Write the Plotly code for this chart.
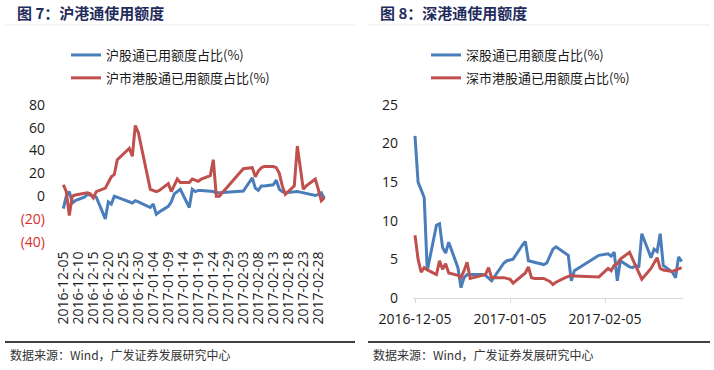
import plotly.graph_objects as go
import pandas as pd

# ---------------- data ----------------
dates = [
    "2016-12-05", "2016-12-06", "2016-12-07", "2016-12-08", "2016-12-09",
    "2016-12-12", "2016-12-13", "2016-12-14", "2016-12-15", "2016-12-16",
    "2016-12-19", "2016-12-20", "2016-12-21", "2016-12-22", "2016-12-23",
    "2016-12-27", "2016-12-28", "2016-12-29", "2016-12-30",
    "2017-01-03", "2017-01-04", "2017-01-05", "2017-01-06",
    "2017-01-09", "2017-01-10", "2017-01-11", "2017-01-12", "2017-01-13",
    "2017-01-16", "2017-01-17", "2017-01-18", "2017-01-19", "2017-01-20",
    "2017-01-23", "2017-01-24", "2017-01-25", "2017-01-26",
    "2017-02-03",
    "2017-02-06", "2017-02-07", "2017-02-08", "2017-02-09", "2017-02-10",
    "2017-02-13", "2017-02-14", "2017-02-15", "2017-02-16", "2017-02-17",
    "2017-02-20", "2017-02-21", "2017-02-22", "2017-02-23", "2017-02-24",
    "2017-02-27", "2017-02-28", "2017-03-01", "2017-03-02",
]

# 图7 沪港通
sh_north = [-11, 0, 4, -6, -4,
            -1, 1.5, 1, 0, -1,
            -20, -5, -7, 0, -1,
            -5, -6, -4, -5,
            -10, -7, -16, -14,
            -9, -5, 2, 4, 6,
            -10, 6, 4, 5, 5,
            4, 4, 3, 3,
            4.5,
            16, 7, 5, 9, 9,
            10, 14, 6, 4, 3,
            4, 4, 3.5, 3, 2,
            0.5, 1.5, 3, -2]
sh_south = [10, 4, -17, 0, 1,
            3, 3, 2, -1.5, 4,
            7, 12, 17, 19, 32,
            42, 35, 62, 56,
            6, 5, 4, 5,
            11, 4, 10, 15, 12,
            12, 15, 14, 13, 15,
            18, 32, 0, 0,
            24,
            25, 17, 22, 25, 26,
            26, 25, 20, 9, 1.5,
            9, 44, 25, 6, 9,
            15, 6, -4, -1.5]

# 图8 深港通
sz_north = [21, 15, 14, 13, 3.5,
            9.4, 9.6, 6.5, 5.8, 7.2,
            3.9, 1.3, 2.6, 3.0, 3.0,
            3.0, 2.9, 2.6, 2.2,
            4.5, 4.8, 4.9, 5.0,
            6.8, 7.3, 4.8, 4.7, 4.6,
            4.3, 4.5, 5.5, 6.3, 6.6,
            5.8, 5.5, 2.2, 3.5,
            5.5,
            5.7, 5.4, 5.9, 2.2, 4.8,
            4.0, 3.9, 4.2, 3.9, 8.3,
            5.2, 6.3, 6.0, 8.3, 4.2,
            3.3, 2.6, 5.3, 4.7]
sz_south = [8.1, 5.0, 3.3, 3.9, 3.6,
            3.0, 4.8, 3.7, 4.4, 3.2,
            2.9, 2.6, 3.5, 4.6, 2.5,
            2.9, 3.0, 3.9, 2.6,
            2.6, 2.5, 2.4, 1.9,
            2.9, 3.2, 4.0, 2.6, 2.5,
            2.5, 2.3, 2.1, 1.7, 2.0,
            2.6, 2.8, 2.9, 2.8,
            2.7,
            3.8, 3.5, 4.2, 4.4, 5.0,
            5.9, 5.0, 4.2, 3.3, 2.4,
            3.8, 4.5, 5.2, 3.8, 3.6,
            3.4, 3.6, 3.8, 3.9]

left_yticks = [-40, -20, 0, 20, 40, 60, 80]
left_yticktext = ['<span style="color:#d9302c">(40)</span>',
                  '<span style="color:#d9302c">(20)</span>',
                  "0", "20", "40", "60", "80"]
right_yticks = [0, 5, 10, 15, 20, 25]

names_left = ["沪股通已用额度占比(%)", "沪市港股通已用额度占比(%)"]
names_right = ["深股通已用额度占比(%)", "深市港股通已用额度占比(%)"]
titles = ["图 7：沪港通使用额度", "图 8：深港通使用额度"]
source = "数据来源：Wind，广发证券发展研究中心"

# ---------------- styling ----------------
W, H = 714, 370
BLUE = "#4a7ebb"
RED = "#c0504d"
FONT = "Open Sans, Noto Sans CJK SC, sans-serif"
CJK = "Noto Sans CJK SC, sans-serif"
TXT = "#1a1a1a"


def fx(p):
    return p / W


def fy(p):
    return 1 - p / H


start = pd.Timestamp(dates[0])
DAY_L = 3.0      # px per day, left panel
DAY_R = 3.065    # px per day, right panel
L0, L1, LSTART = 60, 326, 63.3
R0, R1, RSTART = 413, 683, 415.0
left_range = [(start - pd.Timedelta(days=(LSTART - L0) / DAY_L)).isoformat(),
              (start + pd.Timedelta(days=(L1 - LSTART) / DAY_L)).isoformat()]
right_range = [(start - pd.Timedelta(days=(RSTART - R0) / DAY_R)).isoformat(),
               (start + pd.Timedelta(days=(R1 - RSTART) / DAY_R)).isoformat()]

ly_dom = [fy(241.7), fy(105)]
ry_dom = [fy(297.7), fy(105)]
zero_pos = ly_dom[0] + (0 - left_yticks[0]) / (left_yticks[-1] - left_yticks[0]) * (ly_dom[1] - ly_dom[0])

fig = go.Figure()
fig.add_trace(go.Scatter(x=dates, y=sh_north, name=names_left[0], mode="lines", legendgroup="a",
                         line=dict(color=BLUE, width=3), xaxis="x", yaxis="y", legend="legend"))
fig.add_trace(go.Scatter(x=dates, y=sh_south, name=names_left[1], mode="lines", legendgroup="b",
                         line=dict(color=RED, width=3), xaxis="x", yaxis="y", legend="legend"))
fig.add_trace(go.Scatter(x=dates, y=sz_north, name=names_right[0], mode="lines", legendgroup="c",
                         line=dict(color=BLUE, width=3), xaxis="x2", yaxis="y2", legend="legend2"))
fig.add_trace(go.Scatter(x=dates, y=sz_south, name=names_right[1], mode="lines", legendgroup="d",
                         line=dict(color=RED, width=3), xaxis="x2", yaxis="y2", legend="legend2"))

five_days = 5 * 86400000

fig.update_layout(
    width=W, height=H,
    margin=dict(l=0, r=0, t=0, b=0, autoexpand=False),
    paper_bgcolor="white", plot_bgcolor="white",
    font=dict(family=FONT, size=14, color=TXT),
    xaxis=dict(domain=[fx(L0), fx(L1)], type="date", range=left_range, anchor="y",
               tick0=dates[0], dtick=five_days, tickformat="%Y-%m-%d", tickangle=-90,
               showgrid=False, showline=False, zeroline=False, ticks="", automargin=False,
               ticklabelstandoff=6, tickfont=dict(size=14, color=TXT)),
    xaxis3=dict(domain=[fx(L0), fx(L1)], type="date", range=left_range, anchor="free",
                overlaying="x", position=zero_pos, automargin=False,
                tick0=dates[0], dtick=five_days, showticklabels=False,
                showgrid=False, showline=True, linecolor="#d9d9d9", linewidth=1,
                ticks="outside", ticklen=4, tickcolor="#d9d9d9", zeroline=False),
    yaxis=dict(domain=ly_dom, range=[left_yticks[0], left_yticks[-1]], anchor="x",
               tickvals=left_yticks, ticktext=left_yticktext, automargin=False,
               showgrid=False, zeroline=False, showline=False, ticks="",
               ticklabelstandoff=14, tickfont=dict(size=14, color=TXT)),
    xaxis2=dict(domain=[fx(R0), fx(R1)], type="date", range=right_range, anchor="y2",
                tick0=dates[0], dtick="M1", tickformat="%Y-%m-%d", automargin=False,
                showgrid=False, showline=True, linecolor="#d9d9d9", linewidth=1,
                ticks="outside", ticklen=4, tickcolor="#d9d9d9", zeroline=False,
                ticklabelstandoff=4, tickfont=dict(size=14, color=TXT)),
    yaxis2=dict(domain=ry_dom, range=[right_yticks[0], right_yticks[-1]], anchor="x2",
                tickvals=right_yticks, showgrid=False, zeroline=False, showline=False,
                automargin=False,
                ticks="", ticklabelstandoff=14, tickfont=dict(size=14, color=TXT)),
    legend=dict(x=fx(66), y=fy(40), xanchor="left", yanchor="top",
                bgcolor="rgba(0,0,0,0)", font=dict(family=CJK, size=13, color=TXT),
                itemwidth=30, tracegroupgap=3),
    legend2=dict(x=fx(426), y=fy(40), xanchor="left", yanchor="top",
                 bgcolor="rgba(0,0,0,0)", font=dict(family=CJK, size=13, color=TXT),
                 itemwidth=30, tracegroupgap=3),
    showlegend=True,
)

# titles, separators and footers
annotations = []
shapes = []
for i, (x0, x1) in enumerate([(5, 355), (368, 710)]):
    annotations.append(dict(text="<b>" + titles[i] + "</b>", xref="paper", yref="paper",
                            x=fx(x0 + 10), y=fy(12), xanchor="left", yanchor="middle",
                            showarrow=False, font=dict(family=CJK, size=15, color="#1f2c5c")))
    annotations.append(dict(text=source, xref="paper", yref="paper",
                            x=fx(x0 + 3), y=fy(354), xanchor="left", yanchor="middle",
                            showarrow=False, font=dict(family=CJK, size=12, color="#333333")))
    shapes.append(dict(type="line", xref="paper", yref="paper", x0=fx(x0), x1=fx(x1),
                       y0=fy(25), y1=fy(25), line=dict(color="#ececec", width=1)))
    shapes.append(dict(type="line", xref="paper", yref="paper", x0=fx(x0), x1=fx(x1),
                       y0=fy(342), y1=fy(342), line=dict(color="#000000", width=1.5)))
fig.update_layout(annotations=annotations, shapes=shapes)

fig.write_html("out.html",
               config={"displayModeBar": False},
               post_script="document.body.style.margin='0';document.body.style.padding='0';"
                           "document.documentElement.style.overflow='hidden';")
